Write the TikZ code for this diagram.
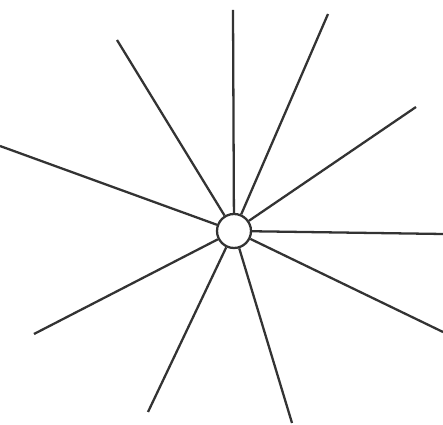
\documentclass[tikz,border=0pt]{standalone}
\usepackage{tikz}
\usetikzlibrary{positioning}

\begin{document}
\begin{tikzpicture}[
	x=0.02cm, y=0.02cm,
	hubnode/.style={circle, draw=black!80, fill=white, line width=1.3pt,
	                minimum size=0.68cm, inner sep=0pt},
	ray/.style={draw=black!80, line width=1.3pt}
	]
\useasboundingbox (0,0) rectangle (443,425);

% Mittelpunkt
\node[hubnode] (hub) at (234,194) {};

% Enden der Strahlen
\coordinate (r1) at (233,415);
\coordinate (r2) at (328,411);
\coordinate (r3) at (416,318);
\coordinate (r4) at (443,191);
\coordinate (r5) at (443,93);
\coordinate (r6) at (292,2);
\coordinate (r7) at (148,13);
\coordinate (r8) at (34,91);
\coordinate (r9) at (0,279);
\coordinate (r10) at (117,385);

% Strahlen
\draw[ray] (hub) -- (r1);
\draw[ray] (hub) -- (r2);
\draw[ray] (hub) -- (r3);
\draw[ray] (hub) -- (r4);
\draw[ray] (hub) -- (r5);
\draw[ray] (hub) -- (r6);
\draw[ray] (hub) -- (r7);
\draw[ray] (hub) -- (r8);
\draw[ray] (hub) -- (r9);
\draw[ray] (hub) -- (r10);

\end{tikzpicture}
\end{document}
